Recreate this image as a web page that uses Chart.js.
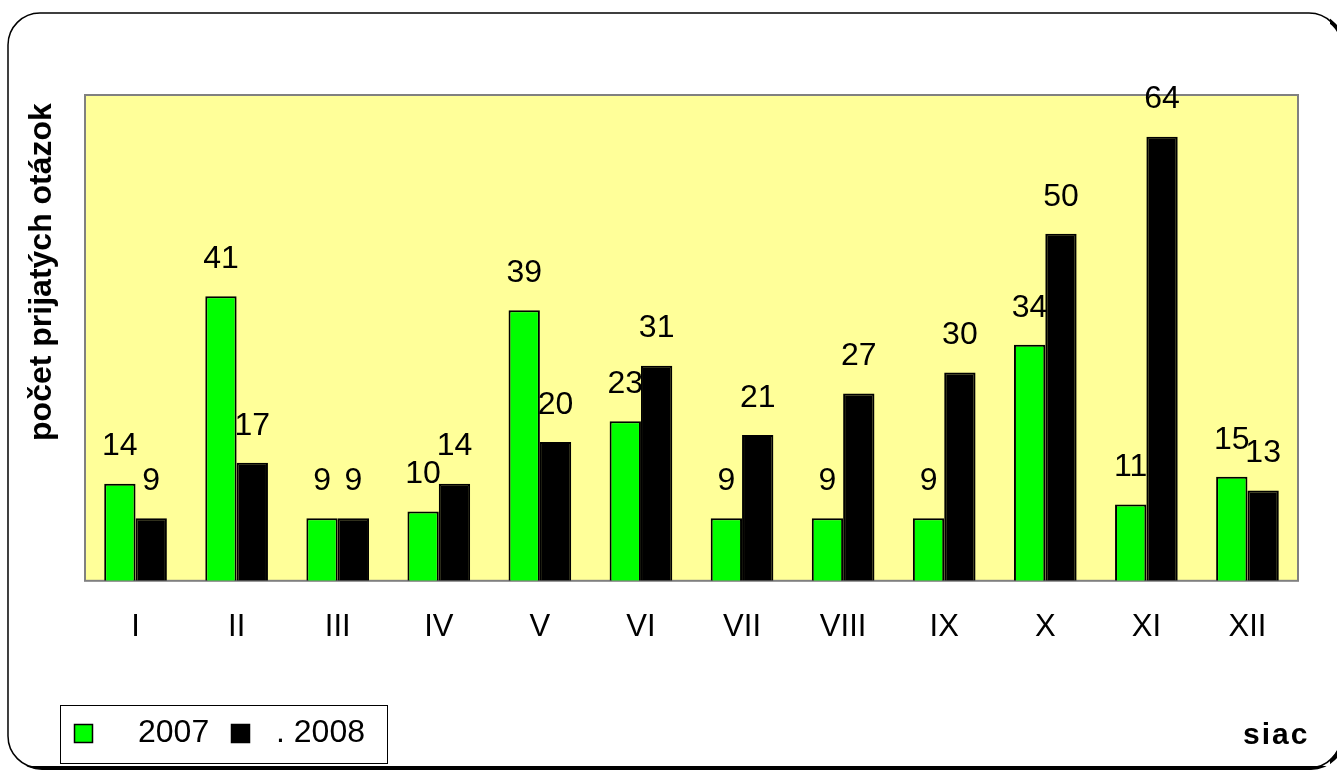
<!DOCTYPE html>
<html>
<head>
<meta charset="utf-8">
<script src="https://cdn.jsdelivr.net/npm/chart.js@4/dist/chart.umd.min.js"></script>
<style>
  html, body { margin: 0; padding: 0; background: #fff; }
  #wrap { width: 1337px; height: 771px; position: relative; }
</style>
</head>
<body>
<div id="wrap"><canvas id="chart" width="1337" height="771"></canvas></div>
<script>
const months = ["I", "II", "III", "IV", "V", "VI", "VII", "VIII", "IX", "X", "XI", "XII"];
const values2007 = [14, 41, 9, 10, 39, 23, 9, 9, 9, 34, 11, 15];
const values2008 = [9, 17, 9, 14, 20, 31, 21, 27, 30, 50, 64, 13];
const seriesLabels = ["2007", ". 2008"];
const yMax = 70;
const yTitle = "počet prijatých otázok";
const xTitle = "siac";

const FONT = "'Liberation Sans', Arial, sans-serif";

// frame, plot background, value labels, titles and legend
const decor = {
    id: "decor",
    beforeDraw(chart) {
        const ctx = chart.ctx;
        const a = chart.chartArea;
        ctx.save();
        ctx.fillStyle = "#fff";
        ctx.fillRect(0, 0, chart.width, chart.height);

        // rounded outer frame, heavier on the bottom-right like a shadow
        ctx.strokeStyle = "#000";
        ctx.lineWidth = 4;
        roundRect(ctx, 10, 15, 1343, 768, 32);
        ctx.stroke();
        ctx.fillStyle = "#fff";
        ctx.fillRect(0, 0, 1330, 766);
        ctx.lineWidth = 1.5;
        roundRect(ctx, 8, 13, 1341, 768, 32);
        ctx.stroke();

        ctx.fillStyle = "#ffff99";
        ctx.fillRect(a.left, a.top, a.right - a.left, a.bottom - a.top);
        ctx.strokeStyle = "#808080";
        ctx.lineWidth = 2;
        ctx.strokeRect(a.left, a.top, a.right - a.left, a.bottom - a.top);
        ctx.restore();
    },
    afterDatasetsDraw(chart) {
        const ctx = chart.ctx;
        ctx.save();
        ctx.fillStyle = "#000";
        ctx.font = "32px " + FONT;
        ctx.textAlign = "center";
        ctx.textBaseline = "middle";
        chart.data.datasets.forEach((ds, i) => {
            chart.getDatasetMeta(i).data.forEach((bar, j) => {
                ctx.fillText(String(ds.data[j]), bar.x, bar.y - 37);
            });
        });

        // y axis title
        ctx.font = "bold 32px " + FONT;
        ctx.save();
        ctx.translate(42, 272);
        ctx.rotate(-Math.PI / 2);
        ctx.fillText(yTitle, 0, 0);
        ctx.restore();

        // x axis title
        ctx.textAlign = "left";
        ctx.font = "bold 30px " + FONT;
        ctx.letterSpacing = "2px";
        ctx.fillText(xTitle, 1243, 736);
        ctx.letterSpacing = "0px";

        // legend
        ctx.strokeStyle = "#000";
        ctx.lineWidth = 1;
        ctx.strokeRect(60.5, 705.5, 327, 58);
        ctx.font = "32px " + FONT;
        const boxes = [[74, 138], [231, 276]];
        chart.data.datasets.forEach((ds, i) => {
            ctx.fillStyle = ds.backgroundColor;
            ctx.fillRect(boxes[i][0], 724, 19, 19);
            ctx.lineWidth = 1.5;
            ctx.strokeRect(boxes[i][0] + 0.5, 724.5, 18, 18);
            ctx.fillStyle = "#000";
            ctx.fillText(ds.label, boxes[i][1], 733);
        });
        ctx.restore();
    }
};

function roundRect(ctx, x1, y1, x2, y2, r) {
    ctx.beginPath();
    ctx.moveTo(x1 + r, y1);
    ctx.lineTo(x2 - r, y1);
    ctx.arcTo(x2, y1, x2, y1 + r, r);
    ctx.lineTo(x2, y2 - r);
    ctx.arcTo(x2, y2, x2 - r, y2, r);
    ctx.lineTo(x1 + r, y2);
    ctx.arcTo(x1, y2, x1, y2 - r, r);
    ctx.lineTo(x1, y1 + r);
    ctx.arcTo(x1, y1, x1 + r, y1, r);
    ctx.closePath();
}

new Chart(document.getElementById("chart"), {
    type: "bar",
    data: {
        labels: months,
        datasets: [
            {
                label: seriesLabels[0],
                data: values2007,
                backgroundColor: "#00ff00",
                borderColor: "#000",
                borderWidth: 2,
            },
            {
                label: seriesLabels[1],
                data: values2008,
                backgroundColor: "#000000",
                borderColor: "#000",
                borderWidth: 2,
            },
        ],
    },
    options: {
        responsive: false,
        animation: false,
        categoryPercentage: 0.62,
        barPercentage: 1.0,
        layout: { padding: { left: 85, right: 39, top: 95, bottom: 97 } },
        scales: {
            x: {
                grid: { display: false, drawTicks: false },
                border: { display: false },
                ticks: { color: "#000", font: { size: 31, family: FONT }, padding: 28 },
            },
            y: { display: false, min: 0, max: yMax },
        },
        plugins: {
            legend: { display: false },
            tooltip: { enabled: false },
        },
    },
    plugins: [decor],
});
</script>
</body>
</html>
